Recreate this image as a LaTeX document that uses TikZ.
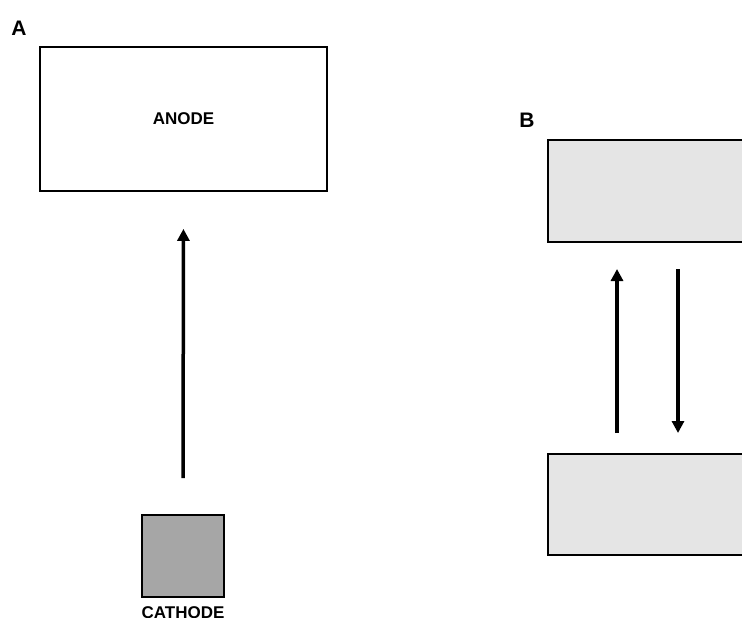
\documentclass[tikz,border=0pt]{standalone}
\usepackage{fontspec}
\setmainfont{Liberation Sans}
\usetikzlibrary{positioning,arrows.meta}

\begin{document}
\begin{tikzpicture}[x=1pt,y=-1pt,
  box/.style={draw=black, line width=1.8pt, inner sep=0pt},
  flow/.style={line width=3.5pt, -{Triangle[length=12pt,width=12pt]}},
  lbl/.style={font=\fontsize{17}{20}\selectfont\bfseries, inner sep=0pt},
  tag/.style={font=\fontsize{21}{24}\selectfont\bfseries, inner sep=0pt}]

% page frame
\useasboundingbox (0,0) rectangle (742,618);

% Panel A
\node[tag] (tagA) at (19,28) {A};
\node[box, fill=white, minimum width=287pt, minimum height=144pt] (anode) at (183.5,119) {};
\node[lbl] (anodetxt) at (anode.center) {ANODE};
\node[box, fill=black!35, minimum width=82pt, minimum height=82pt] (cathode) at (183,556) {};
\node[lbl, below=9pt of cathode] (cathodetxt) {CATHODE};

\draw [flow, shorten <=36pt, shorten >=37pt] (cathode.north) -- (anode.south);

% Panel B
\node[tag] (tagB) at (527,120) {B};
\node[box, fill=black!10, minimum width=260pt, minimum height=102pt, anchor=west] (upper) at (547,191) {};
\node[box, fill=black!10, minimum width=260pt, minimum height=101pt, anchor=west] (lower) at (547,504.5) {};

\coordinate (upfrom) at (617,433);
\coordinate (upto) at (617,269);
\coordinate (downfrom) at (678,269);
\coordinate (downto) at (678,433);
\draw [flow] (upfrom) -- (upto);
\draw [flow] (downfrom) -- (downto);

\end{tikzpicture}
\end{document}
